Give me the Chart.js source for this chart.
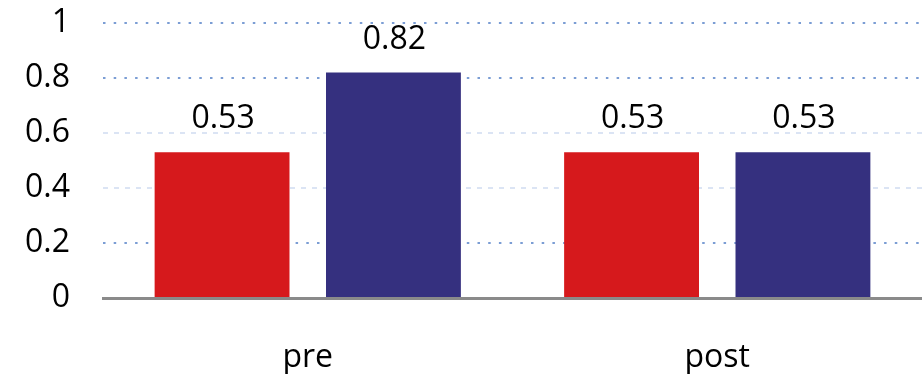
<!DOCTYPE html>
<html>
<head>
<meta charset="utf-8">
<script src="https://cdn.jsdelivr.net/npm/chart.js@4/dist/chart.umd.min.js"></script>
<style>
  html, body { margin: 0; padding: 0; background: #fff; }
  #wrap { width: 922px; height: 374px; }
</style>
</head>
<body>
<div id="wrap"><canvas id="myBarChart"></canvas></div>
<script>
// DATA
const categories = ['pre', 'post'];
const redValues = [0.53, 0.53];
const navyValues = [0.82, 0.53];
const yTicks = [0, 0.2, 0.4, 0.6, 0.8, 1];

const FONT = '"Open Sans", "Liberation Sans", sans-serif';

// VALUE LABELS ABOVE BARS
const valueLabels = {
  id: 'valueLabels',
  afterDatasetsDraw(chart) {
    const ctx = chart.ctx;
    ctx.save();
    ctx.font = '32px ' + FONT;
    ctx.fillStyle = '#000';
    ctx.textAlign = 'center';
    ctx.textBaseline = 'middle';
    chart.data.datasets.forEach((ds, i) => {
      chart.getDatasetMeta(i).data.forEach((bar, j) => {
        ctx.fillText(ds.data[j].toFixed(2), bar.x + 1, bar.y - 33);
      });
    });
    ctx.restore();
  }
};

function gridColor(value) {
  if (value === 0) return 'rgba(0,0,0,0)';
  if (value === 0.4 || value === 0.6) return '#dbe4f4';
  return '#7b9dd4';
}

new Chart(document.getElementById('myBarChart'), {
  type: 'bar',
  data: {
    labels: categories,
    datasets: [{
      data: redValues,
      backgroundColor: '#d6191c',
      categoryPercentage: 0.837,
      barPercentage: 0.787
    },
    {
      data: navyValues,
      backgroundColor: '#35307f',
      categoryPercentage: 0.837,
      barPercentage: 0.787
    }]
  },
  options: {
    responsive: true,
    maintainAspectRatio: false,
    animation: false,
    layout: { padding: { top: 23, right: 0, left: 2, bottom: 0 } },
    plugins: { legend: { display: false }, tooltip: { enabled: false } },
    scales: {
      x: {
        grid: { display: false, drawTicks: false },
        border: { display: true, color: '#8a8a8a', width: 3 },
        ticks: { color: '#000', font: { size: 32, family: FONT }, padding: 41 },
        afterFit(scale) { scale.height = 76; }
      },
      y: {
        min: 0,
        max: 1,
        afterBuildTicks(scale) { scale.ticks = yTicks.map(v => ({ value: v })); },
        grid: {
          drawTicks: false,
          lineWidth: 2,
          color: ctx => gridColor(ctx.tick.value)
        },
        border: {
          display: false,
          dash: ctx => (ctx.tick && (ctx.tick.value === 0.4 || ctx.tick.value === 0.6)) ? [5, 6] : [2.5, 8.2]
        },
        ticks: {
          color: '#000',
          font: { size: 32, family: FONT },
          padding: 33,
          callback: v => String(v)
        },
        afterFit(scale) {
          scale.width = 101;
          scale.paddingTop = 0;
          scale.paddingBottom = 0;
        }
      }
    }
  },
  plugins: [valueLabels]
});
</script>
</body>
</html>
